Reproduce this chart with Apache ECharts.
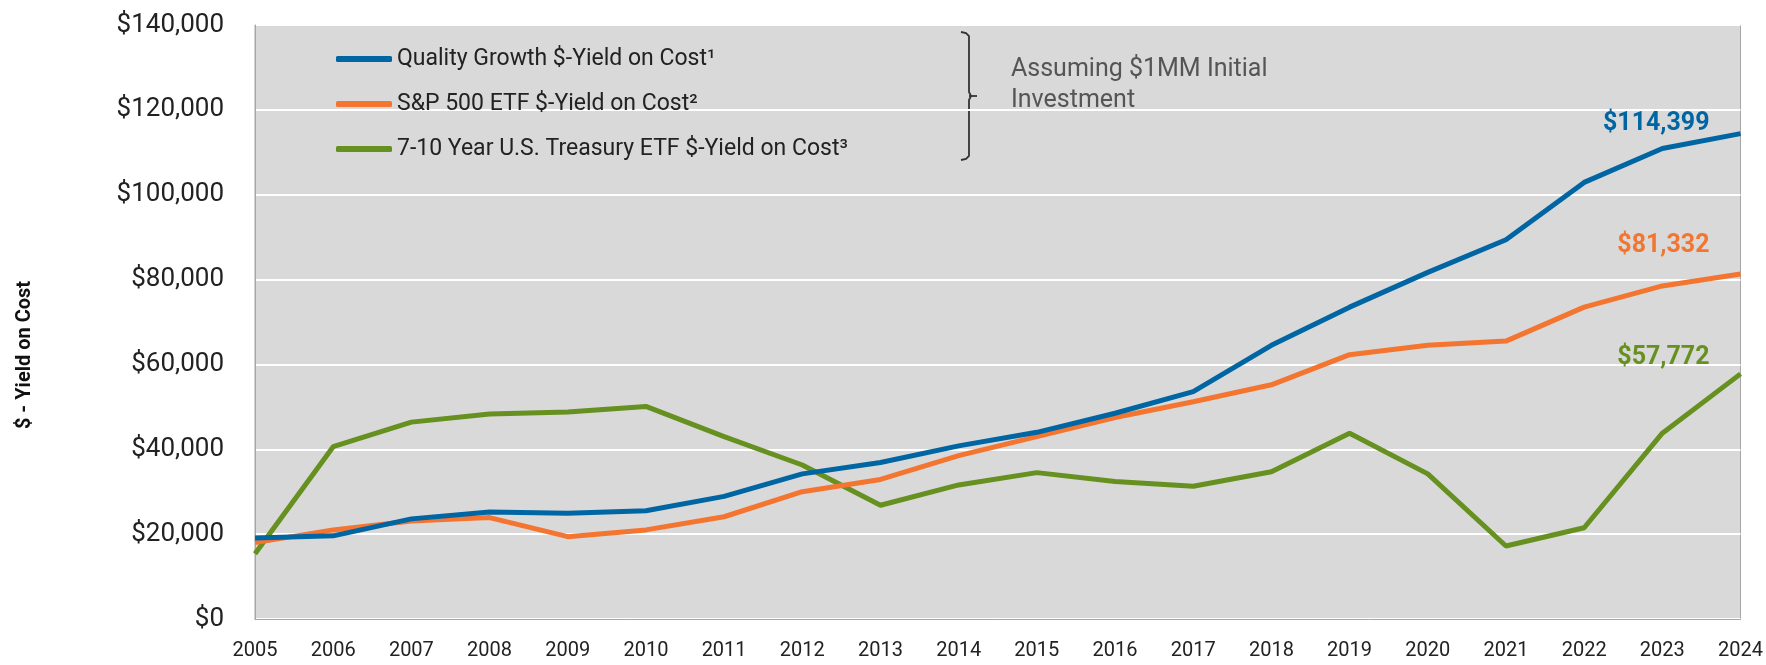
<!DOCTYPE html>
<html>
<head>
<meta charset="utf-8">
<title>$-Yield on Cost</title>
<script src="https://cdn.jsdelivr.net/npm/echarts@6/dist/echarts.min.js"></script>
<style>
  html, body { margin: 0; padding: 0; background: #fff; }
  #chart { width: 1766px; height: 665px; }
</style>
</head>
<body>
<div id="chart"></div>
<script>
// 数据
const years = ['2005', '2006', '2007', '2008', '2009', '2010', '2011', '2012', '2013', '2014',
               '2015', '2016', '2017', '2018', '2019', '2020', '2021', '2022', '2023', '2024'];

const qualityGrowth = [19100, 19600, 23600, 25200, 24900, 25500, 28900, 34200, 36900, 40800,
                       44000, 48500, 53600, 64500, 73500, 81700, 89400, 102900, 110900, 114399];

const sp500 = [18000, 21000, 23100, 23900, 19400, 21000, 24100, 30000, 32900, 38500,
               43000, 47500, 51200, 55200, 62300, 64500, 65500, 73500, 78500, 81332];

const treasury = [15400, 40600, 46400, 48300, 48800, 50100, 43000, 36300, 26800, 31600,
                  34500, 32400, 31300, 34700, 43800, 34200, 17200, 21500, 43800, 57772];

const seriesNames = [
    'Quality Growth $-Yield on Cost¹',
    'S&P 500 ETF $-Yield on Cost²',
    '7-10 Year U.S. Treasury ETF $-Yield on Cost³'
];
const endLabels = ['$114,399', '$81,332', '$57,772'];

const colors = ['#0066a3', '#f47530', '#66901f'];
const FONT = 'Roboto, "Noto Sans", sans-serif';

const chart = echarts.init(document.getElementById('chart'));

// 最后一个点加上数值标签
function withEndLabel(values, idx, dy) {
    return values.map((v, i) => {
        if (i !== values.length - 1) return v;
        return {
            value: v,
            label: {
                show: true,
                position: 'top',
                distance: 0,
                align: 'right',
                offset: [-31, dy],
                formatter: endLabels[idx],
                color: colors[idx],
                fontFamily: FONT,
                fontWeight: 'bold',
                fontSize: 25
            }
        };
    });
}

function makeSeries(name, data, idx) {
    return {
        name: name,
        type: 'line',
        data: data,
        symbol: 'circle',
        symbolSize: 0,
        showSymbol: true,
        smooth: false,
        lineStyle: { color: colors[idx], width: 5 },
        itemStyle: { color: colors[idx] },
        label: { show: false },
        emphasis: { disabled: true },
        z: 3 - idx
    };
}

const option = {
    animation: false,
    textStyle: { fontFamily: FONT },
    grid: {
        left: 255,
        right: 25,
        top: 25,
        bottom: 46,
        show: true,
        backgroundColor: '#d9d9d9',
        borderColor: '#a6a6a6',
        borderWidth: 1
    },
    legend: {
        orient: 'vertical',
        left: 331,
        top: 42,
        itemWidth: 56,
        itemHeight: 6,
        itemGap: 21,
        icon: 'roundRect',
        data: seriesNames,
        textStyle: {
            fontFamily: FONT,
            fontSize: 23,
            color: '#222',
            lineHeight: 24
        }
    },
    xAxis: {
        type: 'category',
        data: years,
        boundaryGap: false,
        axisLine: { show: true, lineStyle: { color: '#a6a6a6', width: 1 } },
        axisTick: { show: false },
        axisLabel: {
            color: '#222',
            fontSize: 20,
            fontFamily: FONT,
            margin: 22,
            interval: 0
        },
        splitLine: { show: false }
    },
    yAxis: {
        type: 'value',
        min: 0,
        max: 140000,
        interval: 20000,
        axisLine: { show: true, lineStyle: { color: '#a6a6a6', width: 1 } },
        axisTick: { show: false },
        axisLabel: {
            color: '#222',
            fontSize: 26,
            fontFamily: FONT,
            margin: 31,
            formatter: v => '$' + v.toLocaleString('en-US')
        },
        splitLine: { show: true, lineStyle: { color: '#ffffff', width: 2 } }
    },
    series: [
        makeSeries(seriesNames[0], withEndLabel(qualityGrowth, 0, 3), 0),
        makeSeries(seriesNames[1], withEndLabel(sp500, 1, -16), 1),
        makeSeries(seriesNames[2], withEndLabel(treasury, 2, -4), 2)
    ],
    graphic: [
        {
            type: 'text',
            x: 25,
            y: 355,
            rotation: Math.PI / 2,
            style: {
                text: '$ - Yield on Cost',
                font: 'bold 20px ' + FONT,
                fill: '#111',
                textAlign: 'center',
                textVerticalAlign: 'middle'
            }
        },
        {
            // 大括号
            type: 'polyline',
            shape: {
                points: [[961, 32], [966, 33], [969, 36], [969, 92], [971, 96],
                         [969, 100], [969, 156], [966, 159], [961, 160]]
            },
            style: { stroke: '#333', lineWidth: 1.8, fill: null }
        },
        {
            type: 'line',
            shape: { x1: 969, y1: 96, x2: 977, y2: 96 },
            style: { stroke: '#333', lineWidth: 1.8 }
        },
        {
            type: 'text',
            x: 1011,
            y: 85,
            style: {
                text: 'Assuming $1MM Initial\nInvestment',
                font: '25px ' + FONT,
                fill: '#555',
                lineHeight: 31,
                textVerticalAlign: 'middle'
            }
        }
    ]
};

chart.setOption(option);
</script>
</body>
</html>
